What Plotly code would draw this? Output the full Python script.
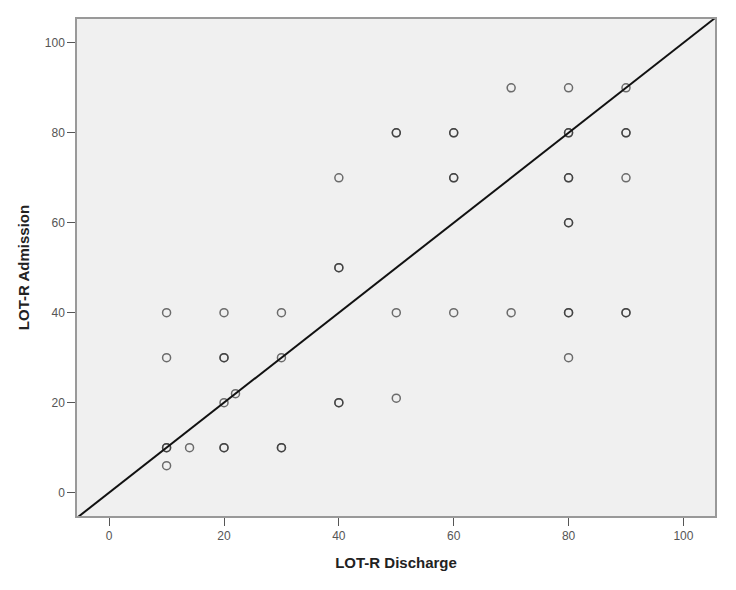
import plotly.graph_objects as go

discharge = [10, 10, 10, 10, 10, 14,
             20, 20, 20, 20, 20, 20, 22,
             30, 30, 30, 30,
             40, 40, 40, 40, 40,
             50, 50, 50, 50, 60, 60, 60, 60, 60,
             70, 70,
             80, 80, 80, 80, 80, 80, 80, 80, 80, 80,
             90, 90, 90, 90, 90, 90]
admission = [40, 30, 10, 10, 6, 10,
             40, 30, 30, 20, 10, 10, 22,
             40, 30, 10, 10,
             70, 50, 50, 20, 20,
             80, 80, 40, 21, 80, 80, 70, 70, 40,
             90, 40,
             90, 80, 80, 70, 70, 60, 60, 40, 40, 30,
             90, 80, 80, 70, 40, 40]

x_range = [-5.6, 105.5]
y_range = [-5.2, 105.3]
ref_line = [-5.6, 105.5]
tick_vals = [0, 20, 40, 60, 80, 100]

fig = go.Figure()
fig.add_trace(go.Scatter(
    x=discharge, y=admission, mode="markers",
    marker=dict(symbol="circle-open", size=8, color="rgba(50,50,50,0.7)",
                line=dict(width=1.5, color="rgba(50,50,50,0.7)")),
    showlegend=False))
fig.add_trace(go.Scatter(
    x=ref_line, y=ref_line, mode="lines",
    line=dict(color="#111111", width=2), showlegend=False))

axis_common = dict(
    tickvals=tick_vals, showgrid=False, zeroline=False, automargin=False,
    ticks="outside", ticklen=8, tickcolor="#555555", tickwidth=1.2,
    showline=True, linecolor="#999999", linewidth=1.5, mirror=True,
    tickfont=dict(family="Liberation Sans, Arial", size=12, color="#555555"),
)
title_font = dict(family="Liberation Sans, Arial", size=15, color="#222222")
fig.update_layout(
    width=736, height=590,
    margin=dict(l=69, r=29, t=11, b=82),
    paper_bgcolor="white", plot_bgcolor="#f0f0f0",
    xaxis=dict(axis_common, range=x_range,
               title=dict(text="<b>LOT-R Discharge</b>", font=title_font, standoff=15)),
    yaxis=dict(axis_common, range=y_range,
               title=dict(text="<b>LOT-R Admission</b>", font=title_font, standoff=12)),
)
fig.write_html("out.html")
